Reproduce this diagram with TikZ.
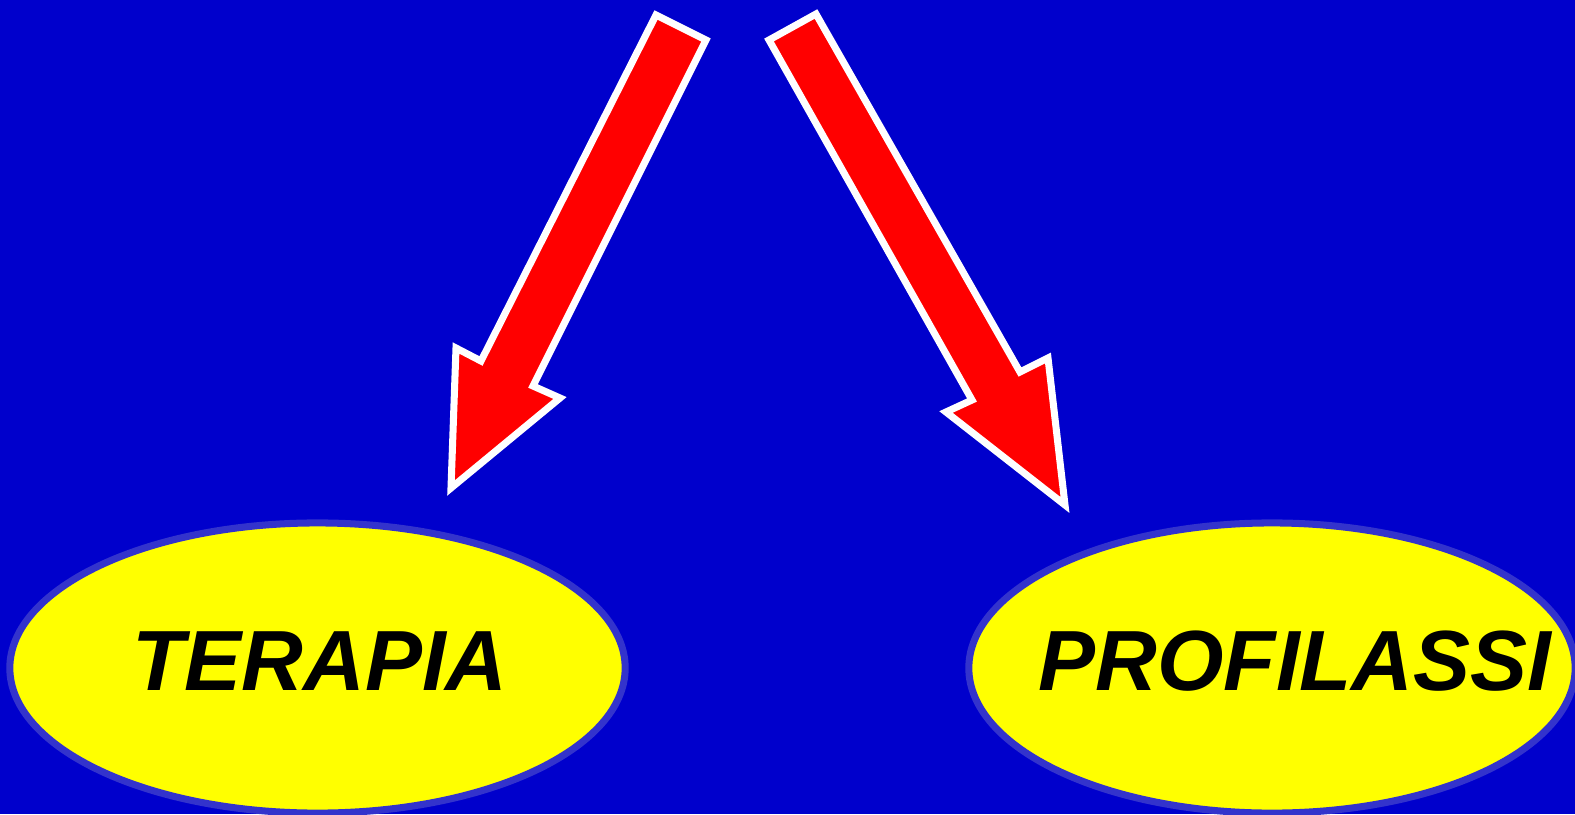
\documentclass[tikz,border=0pt]{standalone}
\usepackage{fontspec}
\setmainfont{Liberation Sans}
\usetikzlibrary{shapes.geometric}
\definecolor{bgblue}{RGB}{0,0,204}
\definecolor{rimblue}{RGB}{51,51,204}
\definecolor{ovalyellow}{RGB}{255,255,0}
\begin{document}
\begin{tikzpicture}[x=0.01cm,y=-0.01cm,
    oval/.style={ellipse,draw=rimblue,fill=ovalyellow,line width=2pt,
                 minimum height=2.90cm,inner sep=0pt},
    word/.style={anchor=base,inner sep=0pt,
                 font=\fontsize{24.3}{28}\selectfont\bfseries\itshape},
    bigarrow/.style={fill=red,draw=white,line width=2pt,line join=miter}]
    \useasboundingbox (0,0) rectangle (1575,814);
    \fill[color=bgblue] (0,0) rectangle (1575,814);

    \node[oval,minimum width=6.15cm] (terapia) at (317.5,668) {};
    \node[oval,minimum width=6.06cm] (profilassi) at (1272,668) {};
    \node[word] (terapiatext) at (320,690) {TERAPIA};
    \node[word] (profilassitext) at (1295,690) {PROFILASSI};

    % left arrow
    \draw[bigarrow]
    (656,15) --
    (706,40) --
    (533,386) --
    (560,398) --
    (451,488) --
    (456,348) --
    (481,361) --
    cycle;
    % right arrow
    \draw[bigarrow]
    (816,14) --
    (1020,372) --
    (1048,358) --
    (1065,505) --
    (946,412) --
    (972,400) --
    (769,40) --
    cycle;
  \end{tikzpicture}
\end{document}
